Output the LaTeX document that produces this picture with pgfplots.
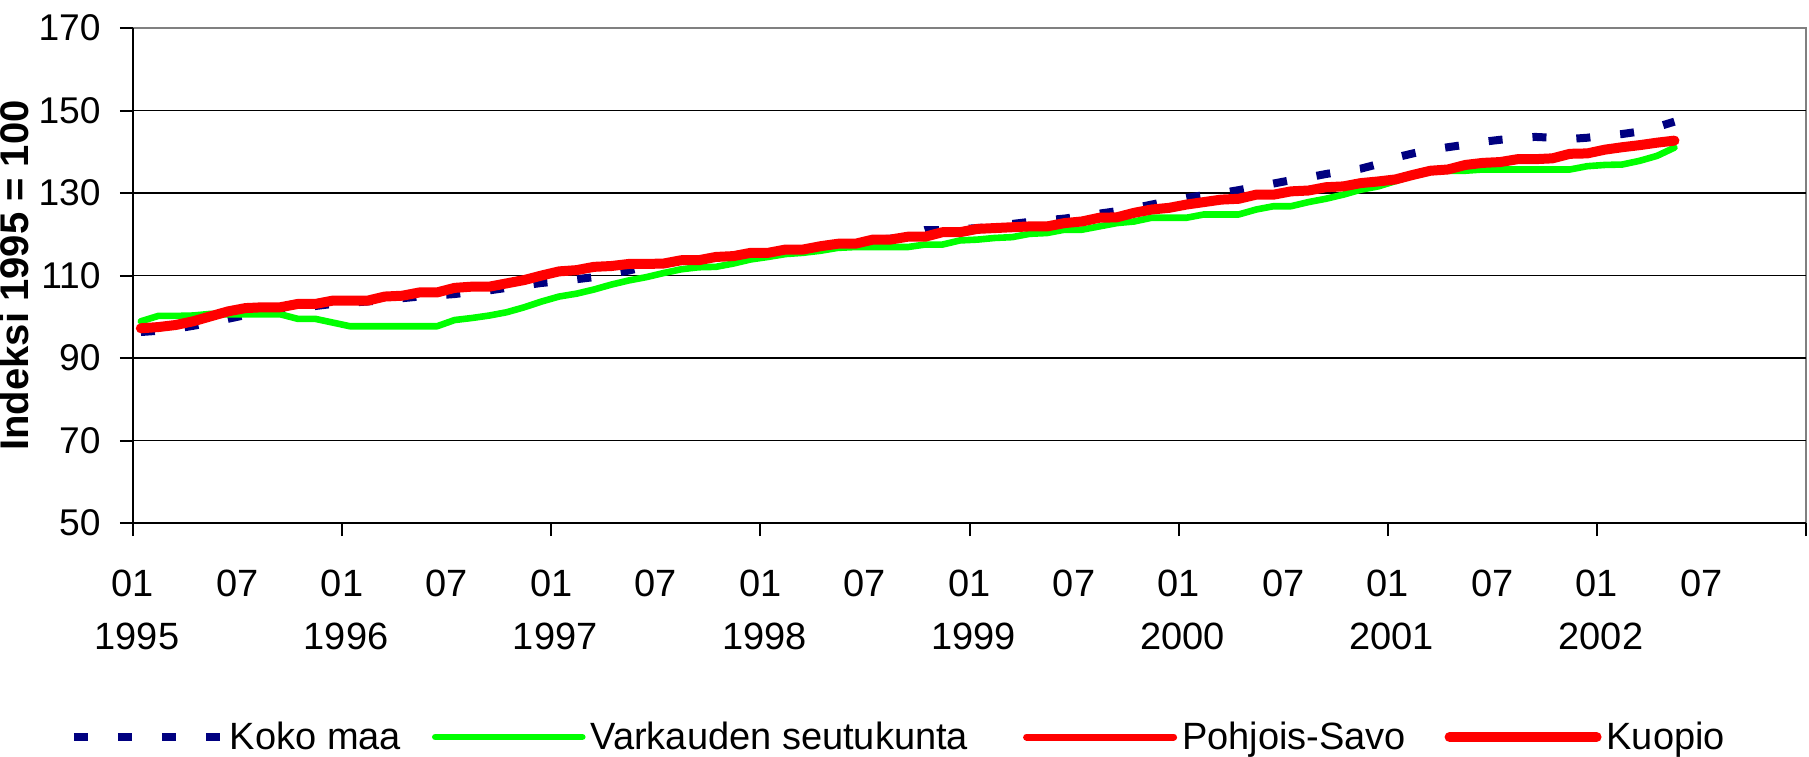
\documentclass[border=0pt]{standalone}
\usepackage{fontspec}
\setmainfont{Liberation Sans}
\usepackage{pgfplots}
\pgfplotsset{compat=1.18}
\usepackage{pgfplotstable}
\definecolor{navyc}{RGB}{0,0,128}
\definecolor{greenc}{RGB}{0,255,0}
\definecolor{redc}{RGB}{255,0,0}
\pgfplotstableread{
k navy green ps kuo
0 96.3 98.9 97.2 97.2
1 96.6 100.2 97.5 97.5
2 97.1 100.2 98.0 98.0
3 97.8 100.3 98.9 98.9
4 98.6 100.7 100.1 100.1
5 99.5 100.6 101.3 101.3
6 100.4 100.6 102.1 102.1
7 101.2 100.6 102.3 102.3
8 101.7 100.6 102.3 102.3
9 102.2 99.5 103.1 103.1
10 102.6 99.5 103.1 103.1
11 103.1 98.6 103.9 103.9
12 103.4 97.7 103.9 103.9
13 103.7 97.7 103.9 103.9
14 104.1 97.7 104.9 104.9
15 104.5 97.7 105.1 105.1
16 104.9 97.7 105.9 105.9
17 105.2 97.7 105.9 105.9
18 105.5 99.2 107.0 107.0
19 106.0 99.7 107.3 107.3
20 106.4 100.3 107.3 107.3
21 107.0 101.1 108.1 108.1
22 107.6 102.3 108.9 108.9
23 108.2 103.7 110.0 110.0
24 108.6 104.9 111.0 111.0
25 109.1 105.6 111.3 111.3
26 109.6 106.6 112.1 112.1
27 110.4 107.8 112.3 112.3
28 111.2 108.8 112.8 112.8
29 112.2 109.6 112.8 112.8
30 112.8 110.6 112.9 112.9
31 113.6 111.5 113.7 113.7
32 113.7 112.0 113.7 113.7
33 114.4 112.1 114.5 114.5
34 114.7 112.9 114.7 114.7
35 115.4 113.9 115.5 115.5
36 115.5 114.5 115.5 115.5
37 116.2 115.2 116.3 116.3
38 116.4 115.5 116.3 116.3
39 117.1 116.0 117.1 117.1
40 117.6 116.7 117.7 117.7
41 117.8 116.9 117.7 117.7
42 118.7 116.9 118.7 118.7
43 118.9 116.9 118.7 118.7
44 119.6 116.9 119.4 119.4
45 121.0 117.5 119.4 119.4
46 121.0 117.5 120.5 120.5
47 121.2 118.5 120.5 120.5
48 121.5 118.7 121.3 121.3
49 121.8 119.1 121.5 121.5
50 122.5 119.3 121.7 121.7
51 123.0 120.1 121.9 121.9
52 123.4 120.3 121.9 121.9
53 123.8 121.1 122.7 122.7
54 124.4 121.1 123.1 123.1
55 125.0 121.9 124.0 124.0
56 125.6 122.7 124.1 124.1
57 126.3 123.1 125.2 125.2
58 127.2 124.0 126.0 126.0
59 128.0 124.0 126.4 126.4
60 128.8 124.0 127.2 127.2
61 129.5 124.8 127.8 127.8
62 130.0 124.8 128.4 128.4
63 130.7 124.8 128.6 128.6
64 131.5 126.0 129.6 129.6
65 132.3 126.8 129.6 129.6
66 133.1 126.8 130.4 130.4
67 133.8 127.8 130.6 130.6
68 134.6 128.6 131.4 131.4
69 135.3 129.6 131.6 131.6
70 135.9 130.8 132.4 132.4
71 137.0 131.6 132.8 132.8
72 138.6 132.9 133.3 133.3
73 139.6 134.2 134.4 134.4
74 140.5 135.2 135.4 135.4
75 141.1 135.4 135.7 135.7
76 141.7 135.4 136.8 136.8
77 142.4 135.7 137.3 137.3
78 142.9 135.7 137.5 137.5
79 143.3 135.7 138.2 138.2
80 143.6 135.7 138.2 138.2
81 143.4 135.7 138.4 138.4
82 143.1 135.7 139.5 139.5
83 143.4 136.5 139.6 139.6
84 143.9 136.8 140.5 140.5
85 144.3 136.9 141.1 141.1
86 144.9 137.8 141.6 141.6
87 146.0 139.0 142.2 142.2
88 147.3 141.0 142.7 142.7
}\data
\newcommand{\tickfont}{\fontsize{18.6}{22}\selectfont}
\newcommand{\xfont}{\fontsize{19}{22}\selectfont}
\begin{document}
\begin{tikzpicture}
\begin{axis}[
  scale only axis, width=836.5pt, height=247.5pt,
  xmin=0, xmax=96, ymin=50, ymax=170,
  axis lines=left, axis line style={-, black, line width=1pt},
  axis background/.style={draw=gray, line width=1pt},
  /pgf/number format/assume math mode=true,
  every tick label/.append style={font=\tickfont},
  ytick={50,70,...,170},
  yticklabel style={anchor=east, inner sep=0pt, xshift=-9.5pt},
  extra y ticks={70,90,...,150},
  extra y tick labels={},
  extra y tick style={grid=major, major tick length=0pt},
  grid style={black, line width=0.8pt},
  xtick={0,6,...,90},
  xticklabels={01,07,01,07,01,07,01,07,01,07,01,07,01,07,01,07},
  xticklabel style={anchor=base, inner sep=0pt, yshift=-30pt, font=\xfont},
  minor xtick={0,12,...,96},
  tick align=outside,
  major tick length=6.5pt, minor tick length=6.5pt,
  tick style={black, line width=1pt},
  major x tick style={draw=none},
  extra x ticks={0,12,...,84},
  extra x tick labels={1995,1996,1997,1998,1999,2000,2001,2002},
  extra x tick style={xticklabel style={yshift=-26.5pt, xshift=2pt}},
  clip=false,
  legend columns=4,
  legend style={draw=none, fill=none, at={(0,0)}, anchor=west, xshift=-31.5pt, yshift=-107pt,
    inner sep=0pt, outer sep=0pt, column sep=0pt, row sep=0pt,
    nodes={inner sep=0pt, font=\xfont}},
  legend image code/.code={\draw[#1] (0pt,0pt) -- (73.5pt,0pt);},
]
\addplot[navyc, line width=4pt, dash pattern=on 7pt off 15pt] table[x expr=\thisrow{k}+0.45, y=navy]{\data};
\addlegendentry{\makebox[103.5pt][l]{\hspace{2.5pt}Koko maa}}
\addplot[greenc, line width=3.3pt, line cap=round, line join=round] table[x expr=\thisrow{k}+0.45, y=green]{\data};
\addlegendentry{\makebox[218.75pt][l]{\hspace{2.5pt}Varkauden seutukunta}}
\addplot[redc, line width=3.5pt, line cap=round, line join=round] table[x expr=\thisrow{k}+0.45, y=ps]{\data};
\addlegendentry{\makebox[133.75pt][l]{\hspace{2.5pt}Pohjois-Savo}}
\addplot[redc, line width=5pt, line cap=round, line join=round] table[x expr=\thisrow{k}+0.45, y=kuo]{\data};
\addlegendentry{\hspace{2.5pt}Kuopio}
\coordinate (axisW) at (rel axis cs:0,0.5);
\coordinate (axisSW) at (rel axis cs:0,0);
\end{axis}
\node[rotate=90, anchor=center, inner sep=0pt, font=\bfseries\fontsize{20}{24}\selectfont] at ([xshift=-59.5pt]axisW) {Indeksi 1995 = 100};
\pgfresetboundingbox
\path ([shift={(-66.5pt,-116.5pt)}]axisSW) rectangle ++(904.5pt,378pt);
\end{tikzpicture}
\end{document}
